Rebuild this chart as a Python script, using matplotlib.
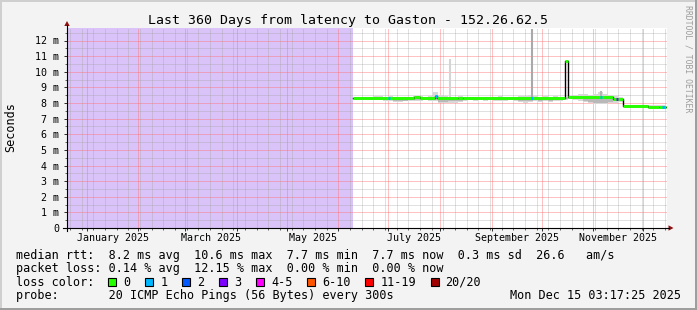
import numpy as np
import pandas as pd
import matplotlib
matplotlib.use('Agg')
import matplotlib.pyplot as plt
import matplotlib.dates as mdates
import matplotlib.transforms as mtransforms
from matplotlib.patches import Polygon, Rectangle
from matplotlib.lines import Line2D

W, H = 697, 310
MONO = 'DejaVu Sans Mono'

# ---------------- data ----------------
t_start = '2024-12-20 03:17:25'
t_end = '2025-12-15 03:17:25'
t_first = '2025-06-09 17:40'     # first sample, no data before it
t_last = '2025-12-14 13:00'      # last sample

# median rtt (ms), step starts
med_t = ['2025-06-09 17:40', '2025-07-16 08:00', '2025-07-19 22:00', '2025-07-28 22:00',
         '2025-07-30 03:00', '2025-08-11 17:40', '2025-08-14 17:40', '2025-10-14 22:30',
         '2025-10-16 17:40', '2025-11-12 17:40', '2025-11-18 17:40', '2025-12-03 17:40',
         '2025-12-10 08:00']
med_v = [8.29, 8.36, 8.29, 8.45, 8.29, 8.34, 8.31, 10.66, 8.37, 8.28, 7.80, 7.72, 7.76]

# samples with packet loss
loss_t = ['2025-07-01 08:00', '2025-07-29 13:00', '2025-09-25 03:00',
          '2025-11-05 13:00', '2025-11-15 03:00', '2025-12-13 01:00']
loss_n = [1, 1, 1, 1, 3, 1]

# single tall outlier pings
spike_t = ['2025-08-06 22:30', '2025-09-25 03:00', '2025-11-05 13:00']
spike_top = [10.80, 12.75, 8.75]
spike_col = ['#d4d4d4', '#a9a9a9', '#b4b4b4']

# smoke, 3 day bins starting at t_first
smoke_hi = [8.35, 8.40, 8.38, 8.40, 8.45, 8.42, 8.40, 8.42, 8.40, 8.38,
            8.40, 8.38, 8.45, 8.42, 8.40, 8.45, 8.70, 8.50, 8.45, 8.40,
            8.40, 8.42, 8.40, 8.38, 8.40, 8.38, 8.40, 8.38, 8.40, 8.42,
            8.40, 8.38, 8.40, 8.42, 8.45, 8.50, 8.45, 8.40, 8.45, 8.40,
            8.42, 8.40, 8.40, 8.45, 8.50, 8.55, 8.55, 8.50, 8.55, 8.70,
            8.55, 8.50, 8.45, 8.40, 7.85, 7.85, 7.85, 7.88, 7.88, 7.90,
            7.88, 7.85, 7.85]
smoke_lo = [8.22, 8.20, 8.18, 8.20, 8.20, 8.18, 8.15, 8.10, 8.05, 8.05,
            8.10, 8.12, 8.10, 8.12, 8.18, 8.15, 8.10, 7.98, 8.00, 8.00,
            8.02, 8.05, 8.15, 8.18, 8.15, 8.18, 8.15, 8.18, 8.12, 8.10,
            8.15, 8.18, 8.10, 8.05, 8.00, 8.05, 8.10, 8.08, 8.10, 8.05,
            8.10, 8.15, 8.18, 8.25, 8.20, 8.15, 8.05, 7.98, 7.95, 7.95,
            7.95, 8.00, 8.00, 8.05, 7.75, 7.72, 7.72, 7.72, 7.70, 7.65,
            7.65, 7.68, 7.70]
dark_lo = [8.26, 8.25, 8.24, 8.25, 8.26, 8.24, 8.22, 8.18, 8.12, 8.10,
           8.15, 8.18, 8.20, 8.22, 8.24, 8.22, 8.20, 8.05, 8.08, 8.10,
           8.12, 8.15, 8.22, 8.24, 8.22, 8.24, 8.22, 8.24, 8.20, 8.18,
           8.22, 8.24, 8.18, 8.12, 8.10, 8.12, 8.18, 8.15, 8.18, 8.14,
           8.18, 8.22, 8.24, 8.30, 8.28, 8.24, 8.12, 8.05, 8.02, 8.02,
           8.02, 8.08, 8.10, 8.15, 7.78, 7.76, 7.76, 7.76, 7.74, 7.70,
           7.70, 7.72, 7.74]

loss_labels = ['0', '1', '2', '3', '4-5', '6-10', '11-19', '20/20']
loss_colors = ['#26ff00', '#00b8ff', '#0059ff', '#7e00ff', '#ff00fe', '#ff5500', '#ff0000', '#a10000']

row1 = 'median rtt:  8.2 ms avg  10.6 ms max  7.7 ms min  7.7 ms now  0.3 ms sd  26.6   am/s'
row2 = 'packet loss: 0.14 % avg  12.15 % max  0.00 % min  0.00 % now'
row4 = 'probe:       20 ICMP Echo Pings (56 Bytes) every 300s'
stamp = 'Mon Dec 15 03:17:25 2025'
title = 'Last 360 Days from latency to Gaston - 152.26.62.5'


def dn(lst):
    return mdates.date2num(pd.to_datetime(lst).to_pydatetime())


def fx(x):
    return x / W


def fy(y):
    return 1 - y / H


x0, x1 = dn([t_start, t_end])
xf, xl = dn([t_first, t_last])
mt = dn(med_t)
mv = np.array(med_v)

fig = plt.figure(figsize=(W / 100, H / 100), dpi=100, facecolor='#f3f3f3')
ax = fig.add_axes([fx(67), fy(228), 600 / W, 200 / H])
ax.set_xlim(x0, x1)
ax.set_ylim(0, 12.8)
ax.set_facecolor('white')
for s in ax.spines.values():
    s.set_visible(False)

# no data area
ax.axvspan(x0, xf, color='#d9c3f8', lw=0, zorder=0.2)

# grid
months = dn(pd.date_range('2025-01-01', '2025-12-01', freq='MS'))
weeks = dn(pd.date_range(t_start, t_end, freq='W-SUN').normalize())
ax.set_xticks(months)
ax.set_xticks(weeks, minor=True)
ax.set_xticklabels([])
ax.set_yticks(np.arange(0, 13))
ax.set_yticks(np.arange(0.5, 12.8, 1.0), minor=True)
ax.set_yticklabels(['0'] + ['%d m' % i for i in range(1, 13)], fontfamily=MONO, fontsize=7.2)
ax.set_axisbelow(True)
ax.grid(which='major', color='#ff7070', alpha=0.85, lw=0.72, ls=(0, (1, 1)))
ax.grid(which='minor', color='#a0a0a0', alpha=0.65, lw=0.72, ls=(0, (1, 1)))
ax.tick_params(which='major', direction='out', length=2.5, width=0.72, color='#333333', pad=3.2)
ax.tick_params(which='minor', direction='out', length=1.4, width=0.72, color='#666666')

# smoke
nb = len(smoke_hi)
edges = xf + np.arange(nb + 1) * 3.0
edges[-1] = min(edges[-1], xl)
med_at = mv[np.clip(np.searchsorted(mt, edges[:-1], side='right') - 1, 0, None)]
ax.fill_between(edges, list(smoke_lo) + [smoke_lo[-1]], list(smoke_hi) + [smoke_hi[-1]],
                step='post', color='#d8d8d8', lw=0, zorder=2)
ax.fill_between(edges, list(dark_lo) + [dark_lo[-1]], list(med_at) + [med_at[-1]],
                step='post', color='#b8b8b8', lw=0, zorder=2.1)
st = dn(spike_t)
sbase = mv[np.searchsorted(mt, st, side='right') - 1]
ax.vlines(st, sbase, spike_top, colors=spike_col, lw=1.5, zorder=2.2)

# median: black step under colored segments
mend = np.append(mt[1:], xl)
ax.step(np.append(mt, xl), np.append(mv, mv[-1]), where='post', color='black', lw=1.0, zorder=3)
ax.hlines(mv, mt, mend, colors=loss_colors[0], lw=2.1, zorder=3.1)
lt = dn(loss_t)
lv = mv[np.searchsorted(mt, lt, side='right') - 1]
ax.hlines(lv, lt - 0.7, lt + 0.7, colors=[loss_colors[n] for n in loss_n], lw=2.1, zorder=3.2)

# x labels at month middles, every other month
trans = mtransforms.blended_transform_factory(ax.transData, fig.transFigure)
for i in range(0, 11, 2):
    mid = (months[i] + months[i + 1]) / 2
    lab = pd.Timestamp(mdates.num2date(months[i]).replace(tzinfo=None)).strftime('%B %Y')
    ax.text(mid, fy(241), lab, transform=trans, ha='center', va='baseline',
            fontfamily=MONO, fontsize=7.2, clip_on=False)

# axis lines and arrows
fig.add_artist(Line2D([fx(67), fx(67)], [fy(231), fy(25)], color='black', lw=0.8))
fig.add_artist(Line2D([fx(63), fx(669)], [fy(228), fy(228)], color='black', lw=0.8))
fig.add_artist(Polygon([(fx(67), fy(21)), (fx(64.3), fy(26)), (fx(69.7), fy(26))],
                       closed=True, color='#8f1010', lw=0))
fig.add_artist(Polygon([(fx(673.5), fy(228)), (fx(668.5), fy(225.3)), (fx(668.5), fy(230.7))],
                       closed=True, color='#8f1010', lw=0))

# frame shades
fig.add_artist(Rectangle((0, fy(2)), 1, 2 / H, color='#cfcfcf', lw=0))
fig.add_artist(Rectangle((0, 0), 2 / W, 1, color='#cfcfcf', lw=0))
fig.add_artist(Rectangle((0, 0), 1, 2 / H, color='#9e9e9e', lw=0))
fig.add_artist(Rectangle((1 - 2 / W, 0), 2 / W, 1, color='#9e9e9e', lw=0))

# texts
fig.text(fx(347.5), fy(24), title, ha='center', va='baseline', fontfamily=MONO, fontsize=9.5)
fig.text(fx(10.5), fy(127), 'Seconds', rotation=90, ha='center', va='center',
         fontfamily=MONO, fontsize=8.5)
fig.text(fx(688), fy(5), 'RRDTOOL / TOBI OETIKER', rotation=270, ha='center', va='top',
         fontfamily=MONO, fontsize=5.9, color='#9c9c9c')

fig.text(fx(16), fy(258.5), row1, ha='left', va='baseline', fontfamily=MONO, fontsize=8.5)
fig.text(fx(16), fy(272), row2, ha='left', va='baseline', fontfamily=MONO, fontsize=8.5)
fig.text(fx(16), fy(285.7), 'loss color:', ha='left', va='baseline', fontfamily=MONO, fontsize=8.5)
bx = 108.3
for lab, col in zip(loss_labels, loss_colors):
    fig.add_artist(Rectangle((fx(bx), fy(285.7)), 8 / W, 8 / H, facecolor=col,
                             edgecolor='black', lw=0.8))
    fig.text(fx(bx + 15), fy(285.7), lab, ha='left', va='baseline', fontfamily=MONO, fontsize=8.5)
    bx = bx + 15 + 7.1 * len(lab) + 14.8
fig.text(fx(16), fy(299.4), row4, ha='left', va='baseline', fontfamily=MONO, fontsize=8.5)
fig.text(fx(681), fy(299.4), stamp, ha='right', va='baseline', fontfamily=MONO, fontsize=8.5)

fig.savefig('out.png', dpi=100, facecolor=fig.get_facecolor())
